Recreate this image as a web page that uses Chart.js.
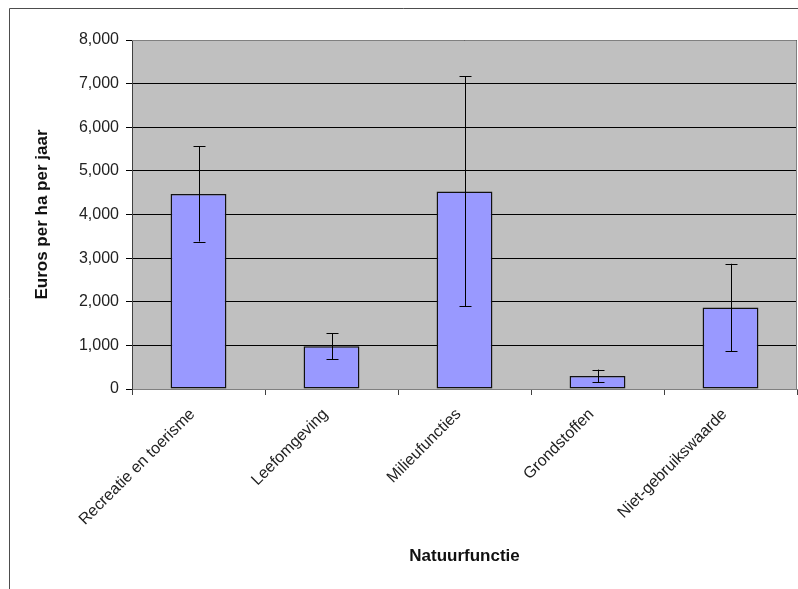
<!DOCTYPE html>
<html>
<head>
<meta charset="utf-8">
<script src="https://cdn.jsdelivr.net/npm/chart.js@4"></script>
<style>
  html, body { margin: 0; padding: 0; background: #ffffff; }
  #wrap { width: 798px; height: 589px; position: relative; }
</style>
</head>
<body>
<div id="wrap"><canvas id="natuur_chart"></canvas></div>
<script>
// data
const categories = ['Recreatie en toerisme', 'Leefomgeving', 'Milieufuncties', 'Grondstoffen', 'Niet-gebruikswaarde'];
const values = [4470, 980, 4530, 300, 1870];
const errors = [1090, 295, 2635, 145, 1000];   // +/- half length of the error bar
const yTicks = [0, 1000, 2000, 3000, 4000, 5000, 6000, 7000, 8000];

// gray plot area + outer frame
const backdrop = {
    id: 'backdrop',
    beforeDraw(chart) {
        const {ctx, chartArea: a} = chart;
        ctx.save();
        ctx.fillStyle = '#c0c0c0';
        ctx.fillRect(a.left, a.top, a.right - a.left, a.bottom - a.top);
        ctx.strokeStyle = '#4d4d4d';
        ctx.lineWidth = 1;
        ctx.beginPath();
        ctx.moveTo(9.5, 589);
        ctx.lineTo(9.5, 8.5);
        ctx.lineTo(798, 8.5);
        ctx.stroke();
        ctx.restore();
    },
    afterDraw(chart) {
        const {ctx, chartArea: a} = chart;
        ctx.save();
        ctx.strokeStyle = '#808080';
        ctx.lineWidth = 1;
        ctx.beginPath();
        ctx.moveTo(a.left, a.top + 0.5);
        ctx.lineTo(a.right - 0.5, a.top + 0.5);
        ctx.lineTo(a.right - 0.5, a.bottom);
        ctx.stroke();
        ctx.restore();
    }
};

// error bars, positioned with the chart's own scales
const errorBars = {
    id: 'errorBars',
    afterDatasetsDraw(chart) {
        const {ctx, scales: {y}} = chart;
        const meta = chart.getDatasetMeta(0);
        ctx.save();
        ctx.strokeStyle = '#000000';
        ctx.lineWidth = 1;
        meta.data.forEach((bar, i) => {
            const x = Math.round(bar.x) + 0.5;
            const top = y.getPixelForValue(values[i] + errors[i]);
            const bot = y.getPixelForValue(values[i] - errors[i]);
            ctx.beginPath();
            ctx.moveTo(x, top);
            ctx.lineTo(x, bot);
            ctx.moveTo(x - 6, Math.round(top) + 0.5);
            ctx.lineTo(x + 6, Math.round(top) + 0.5);
            ctx.moveTo(x - 6, Math.round(bot) + 0.5);
            ctx.lineTo(x + 6, Math.round(bot) + 0.5);
            ctx.stroke();
        });
        ctx.restore();
    }
};

const ctx = document.getElementById('natuur_chart').getContext('2d');
new Chart(ctx, {
    type: 'bar',
    data: {
        labels: categories,
        datasets: [{
            data: values,
            backgroundColor: '#9999ff',
            borderColor: '#111111',
            borderWidth: 1.5,
            borderSkipped: false,
            barPercentage: 0.42,
            categoryPercentage: 1.0
        }]
    },
    options: {
        responsive: true,
        maintainAspectRatio: false,
        animation: false,
        layout: { padding: { top: 40, right: 1, left: 0, bottom: 0 } },
        plugins: {
            legend: { display: false },
            tooltip: { enabled: false }
        },
        scales: {
            x: {
                afterFit: scale => { scale.height = 200; },
                grid: {
                    offset: true,
                    drawOnChartArea: false,
                    color: '#404040',
                    tickLength: 6
                },
                border: { color: '#808080' },
                ticks: {
                    color: '#222222',
                    font: { family: 'Liberation Sans', size: 16 },
                    maxRotation: 45,
                    minRotation: 45,
                    padding: 10,
                    labelOffset: -6
                },
                title: {
                    display: true,
                    text: 'Natuurfunctie',
                    color: '#111111',
                    font: { family: 'Liberation Sans', size: 17, weight: 'bold' },
                    padding: { top: 0, bottom: 22 }
                }
            },
            y: {
                min: 0,
                max: 8000,
                afterFit: scale => { scale.width = 132; },
                afterBuildTicks: scale => { scale.ticks = yTicks.map(v => ({ value: v })); },
                grid: { color: '#000000', tickLength: 6 },
                border: { color: '#404040' },
                ticks: {
                    color: '#222222',
                    font: { family: 'Liberation Sans', size: 16 },
                    padding: 7,
                    callback: v => v.toLocaleString('en-US')
                },
                title: {
                    display: true,
                    text: 'Euros per ha per jaar',
                    color: '#111111',
                    font: { family: 'Liberation Sans', size: 17, weight: 'bold' },
                    padding: { top: 32, bottom: 0 }
                }
            }
        }
    },
    plugins: [backdrop, errorBars]
});
</script>
</body>
</html>
